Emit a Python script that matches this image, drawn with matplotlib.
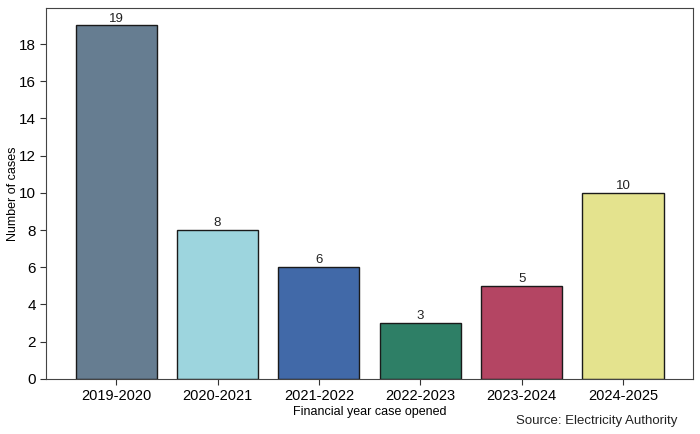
import matplotlib
matplotlib.use("Agg")
import matplotlib.pyplot as plt

categories = ["2019-2020", "2020-2021", "2021-2022", "2022-2023", "2023-2024", "2024-2025"]
values = [19, 8, 6, 3, 5, 10]
colors = ["#667d91", "#9dd5de", "#4169a8", "#2e7f66", "#b44563", "#e4e38e"]

plt.rcParams['font.family'] = ['Liberation Sans', 'DejaVu Sans']

fig = plt.figure(figsize=(7, 4.34), dpi=100)
ax = fig.add_axes([0.066, 0.127, 0.924, 0.855])
bars = ax.bar(categories, values, width=0.8, color=colors, edgecolor="#1a1a1a", linewidth=1.0)
for b, v in zip(bars, values):
    ax.text(b.get_x() + b.get_width() / 2, v + 0.05, str(v), ha="center", va="bottom", fontsize=9.5, color="#222222")

ax.set_yticks(range(0, 19, 2))
ax.tick_params(axis="both", labelsize=11, color="#333333", length=4)
ax.tick_params(axis="x", labelsize=10.5)
ax.set_ylabel("Number of cases", fontsize=9, labelpad=0)
ax.set_xlabel("Financial year case opened", fontsize=9, labelpad=2)
for s in ax.spines.values():
    s.set_color("#444444")
fig.text(0.967, 0.03, "Source: Electricity Authority", ha="right", va="center", fontsize=9.5, color="#222222")
fig.savefig("out.png", dpi=100)
